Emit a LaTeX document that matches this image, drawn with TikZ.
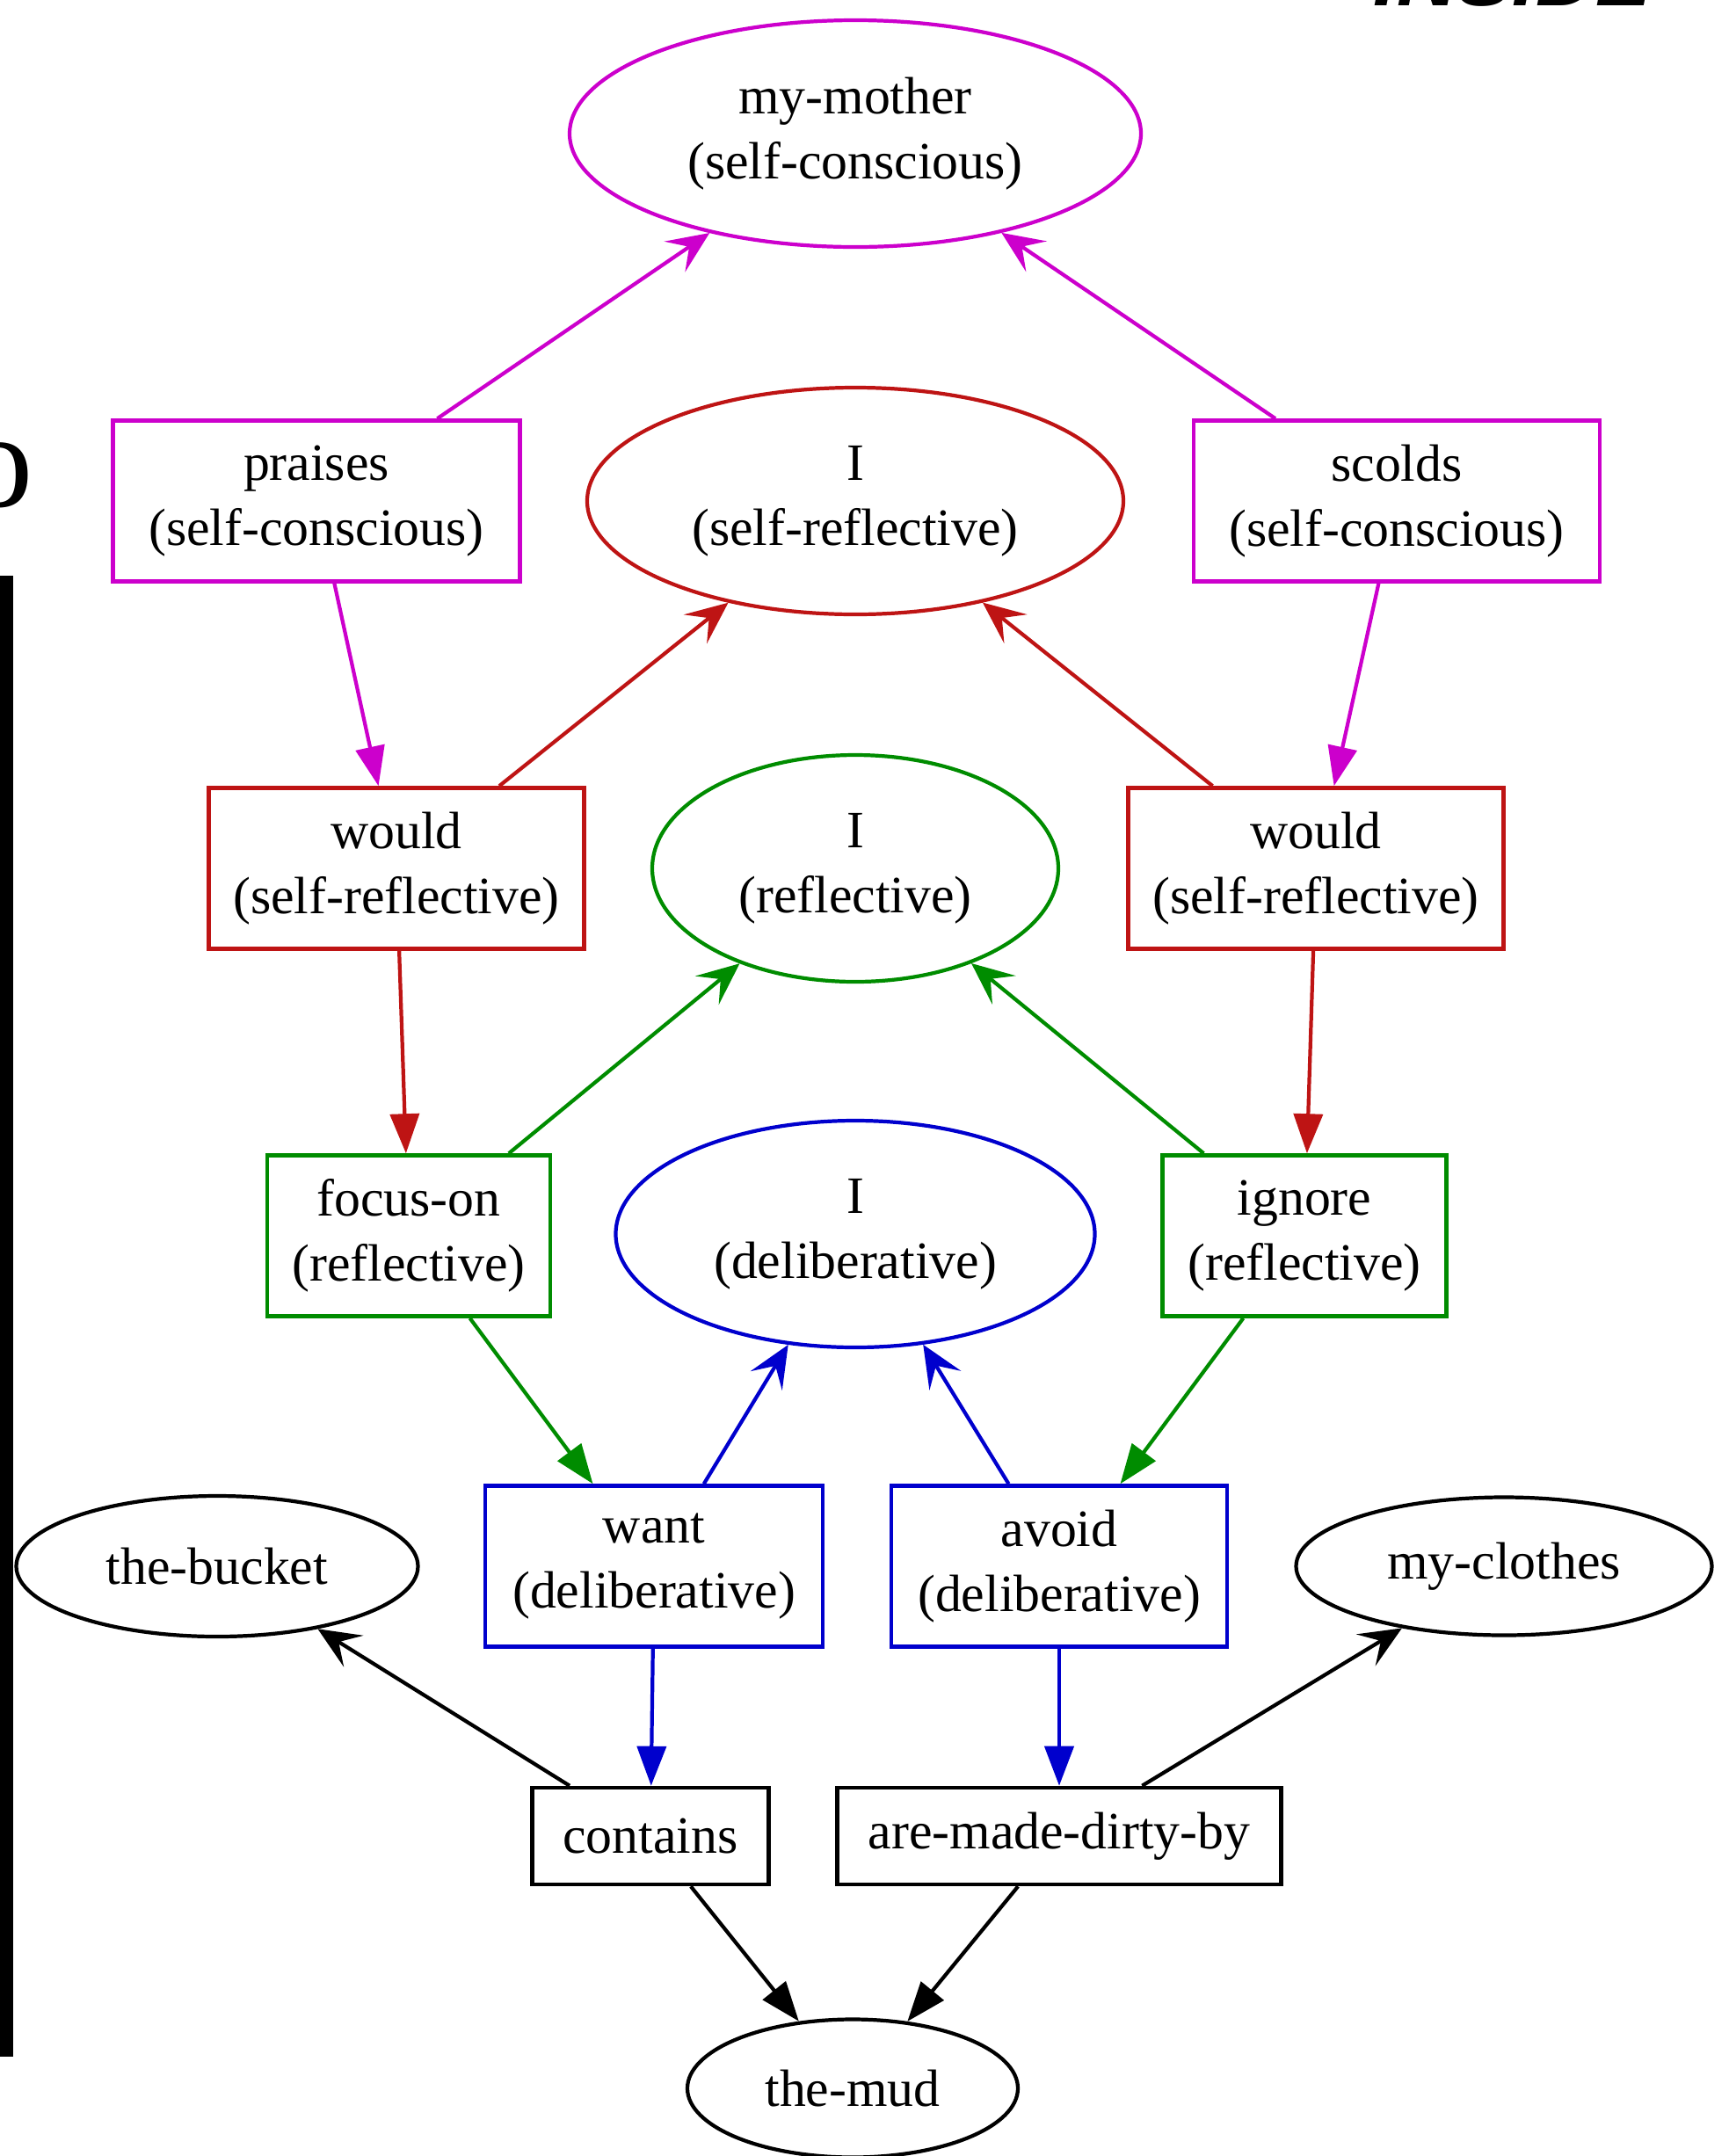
\documentclass[tikz,border=0pt]{standalone}
\usepackage{fontspec}
\setmainfont{Liberation Serif}
\newfontfamily\fragsans{Liberation Sans}
\usetikzlibrary{shapes.geometric, arrows.meta}
\definecolor{clrmag}{RGB}{204,0,204}
\definecolor{clrred}{RGB}{190,20,20}
\definecolor{clrgreen}{RGB}{0,140,0}
\definecolor{clrblue}{RGB}{0,0,205}
\tikzstyle{box} = [rectangle, draw, line width=1.3pt, minimum height=1.83cm, inner sep=0pt, align=center, font=\fontsize{17}{21}\selectfont]
\tikzstyle{bubble} = [ellipse, draw, line width=1.2pt, minimum height=2.58cm, inner sep=0pt, align=center, font=\fontsize{17}{21}\selectfont]
\tikzstyle{arrow} = [line width=1.2pt, -{Triangle[length=4.5mm, width=3.3mm]}]
\tikzstyle{arrowv} = [line width=1.2pt, -{Stealth[length=4.8mm, width=4.2mm, inset=2mm]}]

\begin{document}
\begin{tikzpicture}[node distance=4.18cm]
\useasboundingbox (0,0) rectangle (19.67,-24.53);

%Fragments at the edges
\node (frag_o) [anchor=base east, inner sep=0pt, font=\fontsize{44}{44}\selectfont] at (0.39,-5.76) {o};
\node (frag_inside) [anchor=base west, inner sep=0pt, font=\fragsans\bfseries\itshape\fontsize{27}{27}\selectfont] at (15.62,-0.06) {INSIDE};
\fill (0,-6.55) rectangle (0.15,-23.40);

%Self-conscious
\node (mother) [bubble, draw=clrmag, minimum width=6.5cm] at (9.73,-1.52) {my-mother\\(self-conscious)};
\node (praises) [box, draw=clrmag, minimum width=4.63cm, below of=mother, xshift=-6.13cm] {praises\\(self-conscious)};
\node (scolds) [box, draw=clrmag, minimum width=4.62cm, below of=mother, xshift=6.16cm] {scolds\\(self-conscious)};

%Self-reflective
\node (I_selfrefl) [bubble, draw=clrred, minimum width=6.1cm, below of=mother] {I\\(self-reflective)};
\node (would_l) [box, draw=clrred, minimum width=4.27cm, below of=praises, xshift=0.91cm] {would\\(self-reflective)};
\node (would_r) [box, draw=clrred, minimum width=4.27cm, below of=scolds, xshift=-0.92cm] {would\\(self-reflective)};

%Reflective
\node (I_refl) [bubble, draw=clrgreen, minimum width=4.62cm, below of=I_selfrefl] {I\\(reflective)};
\node (focus) [box, draw=clrgreen, minimum width=3.22cm, below of=would_l, xshift=0.14cm] {focus-on\\(reflective)};
\node (ignore) [box, draw=clrgreen, minimum width=3.23cm, below of=would_r, xshift=-0.13cm] {ignore\\(reflective)};

%Deliberative
\node (I_delib) [bubble, draw=clrblue, minimum width=5.45cm, below of=I_refl, yshift=0.02cm] {I\\(deliberative)};
\node (want) [box, draw=clrblue, minimum width=3.84cm, below of=focus, xshift=2.79cm, yshift=0.42cm] {want\\(deliberative)};
\node (avoid) [box, draw=clrblue, minimum width=3.82cm, below of=ignore, xshift=-2.79cm, yshift=0.42cm] {avoid\\(deliberative)};

%Objects
\node (bucket) [bubble, minimum width=4.57cm, minimum height=1.6cm, below of=focus, xshift=-2.18cm, yshift=0.42cm] {the-bucket};
\node (clothes) [bubble, minimum width=4.73cm, minimum height=1.57cm, below of=ignore, xshift=2.27cm, yshift=0.42cm] {my-clothes};
\node (contains) [box, minimum width=2.69cm, minimum height=1.1cm, below of=want, xshift=-0.04cm, yshift=1.11cm] {contains};
\node (dirty) [box, minimum width=5.05cm, minimum height=1.1cm, below of=avoid, yshift=1.11cm] {are-made-dirty-by};
\node (mud) [bubble, minimum width=3.76cm, minimum height=1.57cm, below of=contains, xshift=2.3cm, yshift=1.31cm] {the-mud};

\draw [arrowv, clrmag] (praises) -- (mother);
\draw [arrowv, clrmag] (scolds) -- (mother);
\draw [arrow, clrmag] (praises) -- (would_l);
\draw [arrow, clrmag] (scolds) -- (would_r);

\draw [arrowv, clrred] (would_l) -- (I_selfrefl);
\draw [arrowv, clrred] (would_r) -- (I_selfrefl);
\draw [arrow, clrred] (would_l) -- (focus);
\draw [arrow, clrred] (would_r) -- (ignore);

\draw [arrowv, clrgreen] (focus) -- (I_refl);
\draw [arrowv, clrgreen] (ignore) -- (I_refl);
\draw [arrow, clrgreen] (focus) -- (want);
\draw [arrow, clrgreen] (ignore) -- (avoid);

\draw [arrowv, clrblue] (want) -- (I_delib);
\draw [arrowv, clrblue] (avoid) -- (I_delib);
\draw [arrow, clrblue] (want) -- (contains);
\draw [arrow, clrblue] (avoid) -- (dirty);

\draw [arrowv] (contains) -- (bucket);
\draw [arrowv] (dirty) -- (clothes);
\draw [arrow] (contains) -- (mud);
\draw [arrow] (dirty) -- (mud);

\end{tikzpicture}
\end{document}
